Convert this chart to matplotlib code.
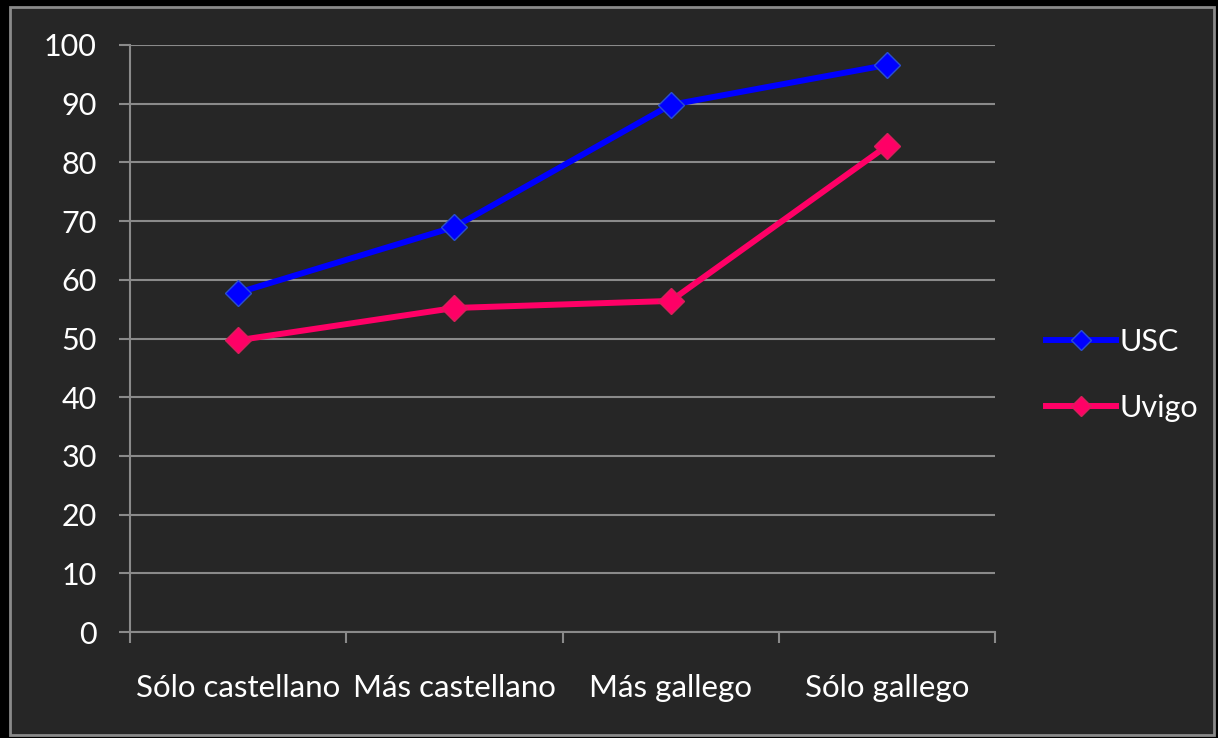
import matplotlib
matplotlib.use("Agg")
import matplotlib.pyplot as plt
from matplotlib.patches import Rectangle

categories = ["Sólo castellano", "Más castellano", "Más gallego", "Sólo gallego"]
usc = [57.8, 69.0, 89.8, 96.6]
uvigo = [49.7, 55.2, 56.4, 82.8]
yticks = [0, 10, 20, 30, 40, 50, 60, 70, 80, 90, 100]

plt.rcParams['font.family'] = ['Lato', 'DejaVu Sans']

W, H = 1218, 738
fig = plt.figure(figsize=(W/100, H/100), dpi=100)
fig.patch.set_facecolor('black')
bg = Rectangle((10/W, 3/H), 1 - 14/W, 1 - 10/H, transform=fig.transFigure,
               facecolor='#262626', edgecolor='#8a8a8a', linewidth=2, zorder=-10)
fig.patches.append(bg)

ax = fig.add_axes([130/W, 1 - 632/H, (995-130)/W, (632-45)/H])
ax.set_facecolor('none')
ax.set_zorder(1)
x = list(range(len(categories)))
ax.plot(x, usc, color='#0000FF', lw=4.3, marker='D', markersize=13,
        markerfacecolor='#0000FF', markeredgecolor='#2a4fd0', markeredgewidth=1, label='USC', zorder=3)
ax.plot(x, uvigo, color='#FF0066', lw=4.3, marker='D', markersize=13,
        markerfacecolor='#FF0066', markeredgecolor='#d8205a', markeredgewidth=1, label='Uvigo', zorder=3)

ax.set_xlim(-0.5, len(categories) - 0.5)
ax.set_ylim(0, 100)
ax.set_yticks(yticks)
ax.set_xticks([i - 0.5 for i in range(len(categories) + 1)], minor=False)
ax.set_xticklabels([])
ax.set_xticks(x, minor=True)
ax.set_xticklabels(categories, minor=True)
ax.tick_params(axis='x', which='minor', length=0, pad=30, labelsize=22.5, colors='white')
ax.tick_params(axis='x', which='major', length=8, width=1.5, color='#8a8a8a', direction='out')
ax.tick_params(axis='y', length=8, width=1.5, color='#8a8a8a', labelsize=22, labelcolor='white', pad=16)
ax.yaxis.grid(True, color='#8a8a8a', lw=1.5)
ax.set_axisbelow(True)
for s in ['top', 'right']:
    ax.spines[s].set_visible(False)
for s in ['left', 'bottom']:
    ax.spines[s].set_color('#8a8a8a')
    ax.spines[s].set_linewidth(1.5)

leg = fig.legend(loc='center left', bbox_to_anchor=(1046/W, 1 - 375/H), frameon=False,
                 fontsize=22, labelcolor='white', handlelength=2.3, handletextpad=0.12,
                 labelspacing=1.25, borderpad=0, borderaxespad=0, markerscale=0.75)

fig.savefig('out.png', dpi=100, facecolor=fig.get_facecolor())
